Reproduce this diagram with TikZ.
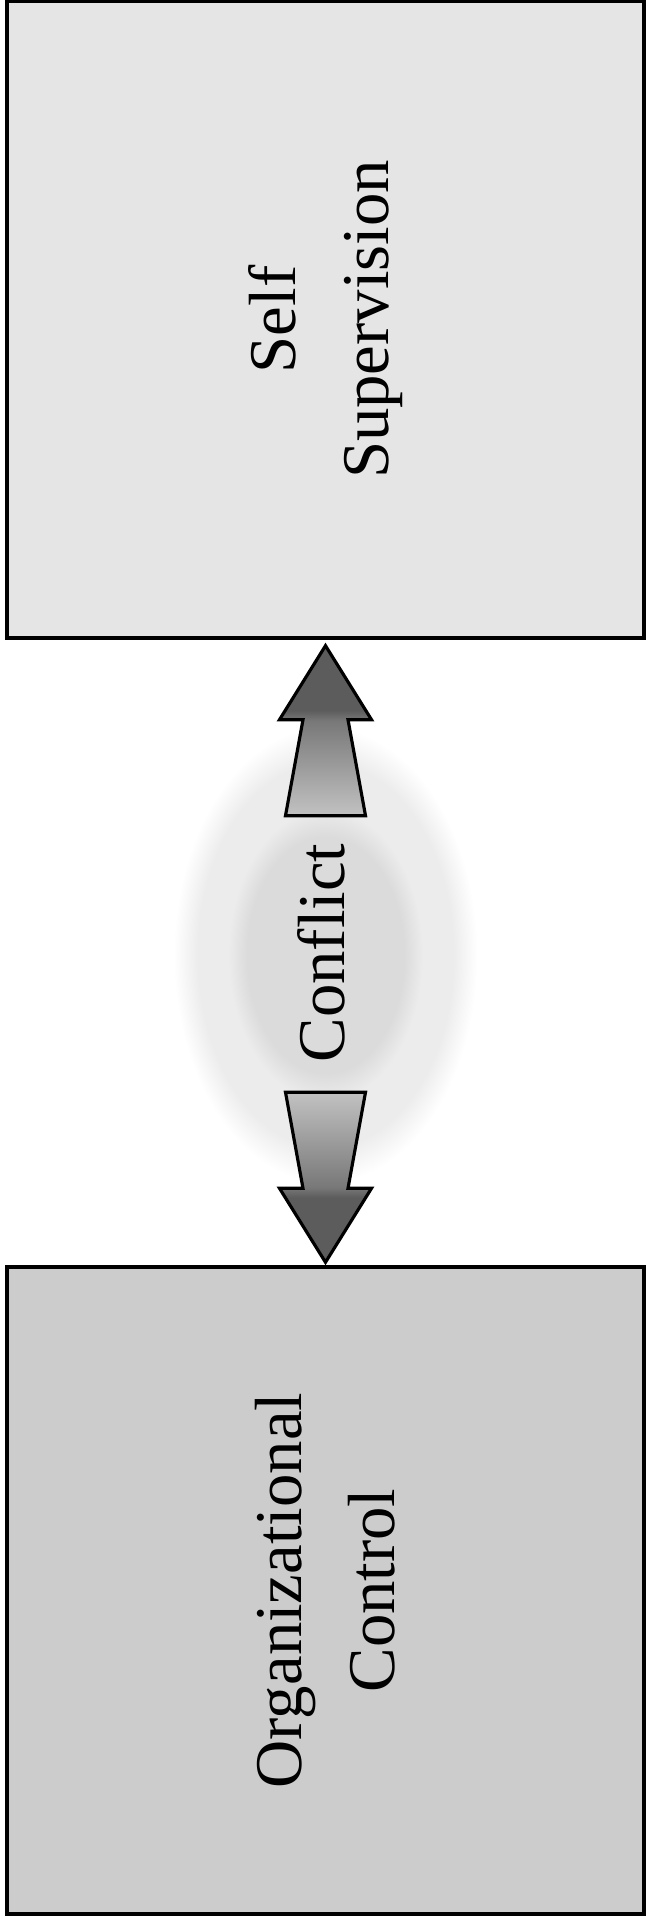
\documentclass[tikz,border=0pt]{standalone}
\usepackage{fontspec}
\setmainfont{Liberation Serif}
\usepackage{tikz}
\usetikzlibrary{calc,shapes.geometric}
\definecolor{topfill}{gray}{0.90}
\definecolor{botfill}{gray}{0.80}
\definecolor{glowin}{gray}{0.86}
\definecolor{glowmid}{gray}{0.925}
\definecolor{shaftlight}{gray}{0.76}
\definecolor{headmid}{gray}{0.47}
\definecolor{headdark}{gray}{0.36}
\pgfdeclareverticalshading{arrowshade}{100bp}{color(0bp)=(shaftlight); color(25bp)=(shaftlight); color(53bp)=(headmid); color(56bp)=(headdark); color(100bp)=(headdark)}
\pgfdeclareradialshading{glowshade}{\pgfpoint{0bp}{0bp}}{color(0bp)=(glowin); color(13bp)=(glowin); color(16bp)=(glowmid); color(21bp)=(glowmid); color(25bp)=(white); color(50bp)=(white)}

\begin{document}
\begin{tikzpicture}[x=0.02cm, y=0.02cm, every node/.style={font=\fontsize{38}{53}\selectfont},
    ctlbox/.style={draw=black, line width=2pt, rotate=90, align=center},
    blockarrow/.style={draw=black, line width=1.8pt, line join=miter, shade, shading=arrowshade}]
  \useasboundingbox (0,0) rectangle (647,1918);
  \node[ellipse, shade, shading=glowshade, inner sep=0pt, minimum width=6.08cm, minimum height=9.12cm] (conflict) at (325.5,963) {};
  \node[ctlbox, fill=topfill, minimum width=12.74cm, minimum height=12.74cm] (selfsup) at (325.5,1598.5) {Self\\Supervision};
  \node[ctlbox, fill=botfill, minimum width=12.94cm, minimum height=12.74cm] (orgctl) at (325.5,327.5) {Organizational\\Control};
  \node[rotate=90] (conflictlbl) at ($(conflict.center)+(-4,2)$) {Conflict};
  % arrow tips sit just off the box edges
  \coordinate (uptip) at ($(selfsup.west)+(0,-6)$);
  \coordinate (dntip) at ($(orgctl.east)+(0,3)$);
  \path[blockarrow] (uptip) -- ++(46,-74) -- ++(-23.5,0) -- ++(17.5,-96) -- ++(-80,0) -- ++(17.5,96) -- ++(-23.5,0) -- cycle;
  \path[blockarrow, shading angle=180] (dntip) -- ++(46,74) -- ++(-23.5,0) -- ++(17.5,96) -- ++(-80,0) -- ++(17.5,-96) -- ++(-23.5,0) -- cycle;
\end{tikzpicture}
\end{document}
